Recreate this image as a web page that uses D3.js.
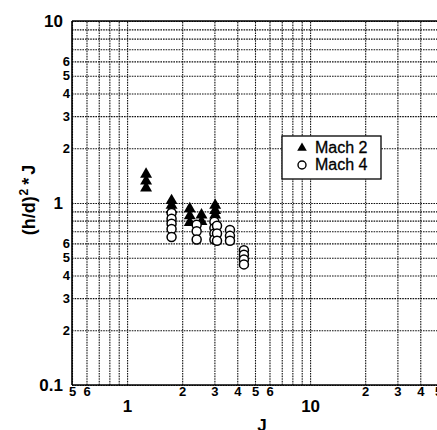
<!DOCTYPE html>
<html>
<head>
<meta charset="utf-8">
<script src="https://cdn.jsdelivr.net/npm/d3@7"></script>
<style>
  html, body { margin: 0; padding: 0; background: #fff; }
  svg { display: block; font-family: "Liberation Sans", Arial, Helvetica, sans-serif; }
</style>
</head>
<body>
<div id="chart"></div>
<script>
// --- data ---
const mach2J = [1.27, 1.27, 1.27, 1.75, 1.75, 1.75, 2.2, 2.2, 2.2, 2.55, 2.55, 3.03, 3.03, 3.03];
const mach2V = [1.44, 1.32, 1.21, 1.03, 0.97, 0.92, 0.93, 0.85, 0.78, 0.86, 0.79, 0.97, 0.91, 0.86];

const mach4J = [1.75, 1.75, 1.75, 1.75, 1.75, 2.4, 2.4, 2.4, 3.0, 3.0, 3.0, 3.0, 3.1, 3.1, 3.1, 3.65, 3.65, 3.65, 4.35, 4.35, 4.35, 4.35];
const mach4V = [0.88, 0.82, 0.77, 0.72, 0.65, 0.76, 0.70, 0.63, 0.79, 0.73, 0.68, 0.63, 0.75, 0.68, 0.62, 0.71, 0.66, 0.62, 0.55, 0.52, 0.49, 0.46];

const xDomain = [0.5, 50];
const yDomain = [0.1, 10];

// grid at every 1..9 step of each decade
const xGrid = [0.5, 0.6, 0.7, 0.8, 0.9, 1, 2, 3, 4, 5, 6, 7, 8, 9, 10, 20, 30, 40, 50];
const yGrid = [0.1, 0.2, 0.3, 0.4, 0.5, 0.6, 0.7, 0.8, 0.9, 1, 2, 3, 4, 5, 6, 7, 8, 9, 10];

// tick labels
const xMinorTicks = [0.5, 0.6, 2, 3, 4, 5, 6, 20, 30, 40, 50];
const xMinorLabels = ["5", "6", "2", "3", "4", "5", "6", "2", "3", "4", "5"];
const xMajorTicks = [1, 10];
const xMajorLabels = ["1", "10"];
const yMinorTicks = [0.2, 0.3, 0.4, 0.5, 0.6, 2, 3, 4, 5, 6];
const yMinorLabels = ["2", "3", "4", "5", "6", "2", "3", "4", "5", "6"];
const yMajorTicks = [0.1, 1, 10];
const yMajorLabels = ["0.1", "1", "10"];

const seriesNames = ["Mach 2", "Mach 4"];

// --- layout ---
const W = 437, H = 430;
const pLeft = 72, pTop = 21, pBottom = 385, pRight = 438;

const svg = d3.select("#chart").append("svg")
    .attr("width", W).attr("height", H);

const x = d3.scaleLog().domain(xDomain).range([pLeft, pRight]);
const y = d3.scaleLog().domain(yDomain).range([pBottom, pTop]);

const plot = svg.append("g");

// grid
const gx = plot.append("g").attr("transform", `translate(0,${pBottom})`)
    .call(d3.axisBottom(x).tickValues(xGrid).tickSize(-(pBottom - pTop)).tickFormat(""));
const gy = plot.append("g").attr("transform", `translate(${pLeft},0)`)
    .call(d3.axisLeft(y).tickValues(yGrid).tickSize(-(pRight - pLeft)).tickFormat(""));
[gx, gy].forEach(g => {
    g.select(".domain").remove();
    g.selectAll(".tick line").attr("stroke", "#111").attr("stroke-width", 1.1).attr("stroke-dasharray", "1.6,1");
});

// frame
plot.append("line").attr("x1", pLeft).attr("x2", pRight).attr("y1", pBottom).attr("y2", pBottom)
    .attr("stroke", "#000").attr("stroke-width", 1.6);
plot.append("line").attr("x1", pLeft).attr("x2", pRight).attr("y1", pTop).attr("y2", pTop)
    .attr("stroke", "#000").attr("stroke-width", 1.6);
plot.append("line").attr("x1", pLeft).attr("x2", pLeft).attr("y1", pTop).attr("y2", pBottom)
    .attr("stroke", "#000").attr("stroke-width", 1.6);

// tick labels
function labelAxis(axis, values, labels, pad, size, transform) {
    const g = svg.append("g").attr("transform", transform)
        .call(axis.tickValues(values).tickSize(0).tickPadding(pad)
            .tickFormat((d, i) => labels[i]));
    g.select(".domain").remove();
    g.selectAll("text").attr("font-size", size).attr("font-weight", "bold")
        .attr("font-family", "'Liberation Sans', Arial, sans-serif").attr("fill", "#000");
    return g;
}
labelAxis(d3.axisBottom(x), xMinorTicks, xMinorLabels, 2, 13, `translate(0,${pBottom})`);
labelAxis(d3.axisBottom(x), xMajorTicks, xMajorLabels, 15, 17, `translate(0,${pBottom})`);
labelAxis(d3.axisLeft(y), yMinorTicks, yMinorLabels, 2, 13, `translate(${pLeft},0)`);
labelAxis(d3.axisLeft(y), yMajorTicks, yMajorLabels, 9, 17, `translate(${pLeft},0)`);

// axis titles
svg.append("text").attr("x", 262).attr("y", 431).attr("text-anchor", "middle")
    .attr("font-size", 17).attr("font-weight", "bold").text("J");

const yt = svg.append("text").attr("transform", "translate(35,200) rotate(-90)")
    .attr("text-anchor", "middle").attr("font-size", 18).attr("font-weight", "bold");
yt.append("tspan").text("(h/d)");
yt.append("tspan").attr("font-size", 12).attr("dx", 1).attr("dy", -7).text("2");
yt.append("tspan").attr("dx", 4).attr("dy", 7).text("*");
yt.append("tspan").attr("dx", 3).text("J");

// data
const tri = d3.symbol().type(d3.symbolTriangle).size(62);
const m2 = mach2J.map((j, i) => ({ j, v: mach2V[i] }));
const m4 = mach4J.map((j, i) => ({ j, v: mach4V[i] }));

plot.append("g").selectAll("path").data(m2).join("path")
    .attr("d", tri).attr("transform", d => `translate(${x(d.j)},${y(d.v)})`)
    .attr("fill", "#000");

plot.append("g").selectAll("circle").data(m4).join("circle")
    .attr("cx", d => x(d.j)).attr("cy", d => y(d.v)).attr("r", 4.5)
    .attr("fill", "#fff").attr("stroke", "#000").attr("stroke-width", 1.5);

// legend
const lg = svg.append("g");
lg.append("rect").attr("x", 282).attr("y", 136).attr("width", 99).attr("height", 43)
    .attr("fill", "#fff").attr("stroke", "#000").attr("stroke-width", 1.3);
lg.append("path").attr("d", d3.symbol().type(d3.symbolTriangle).size(40)).attr("transform", "translate(302,148)").attr("fill", "#000");
lg.append("circle").attr("cx", 302).attr("cy", 165).attr("r", 4)
    .attr("fill", "#fff").attr("stroke", "#000").attr("stroke-width", 1.4);
lg.selectAll("text").data(seriesNames).join("text")
    .attr("x", 315).attr("y", (d, i) => 153 + i * 17)
    .attr("font-size", 16).attr("fill", "#000").attr("stroke", "#000").attr("stroke-width", 0.3)
    .text(d => d);
</script>
</body>
</html>
